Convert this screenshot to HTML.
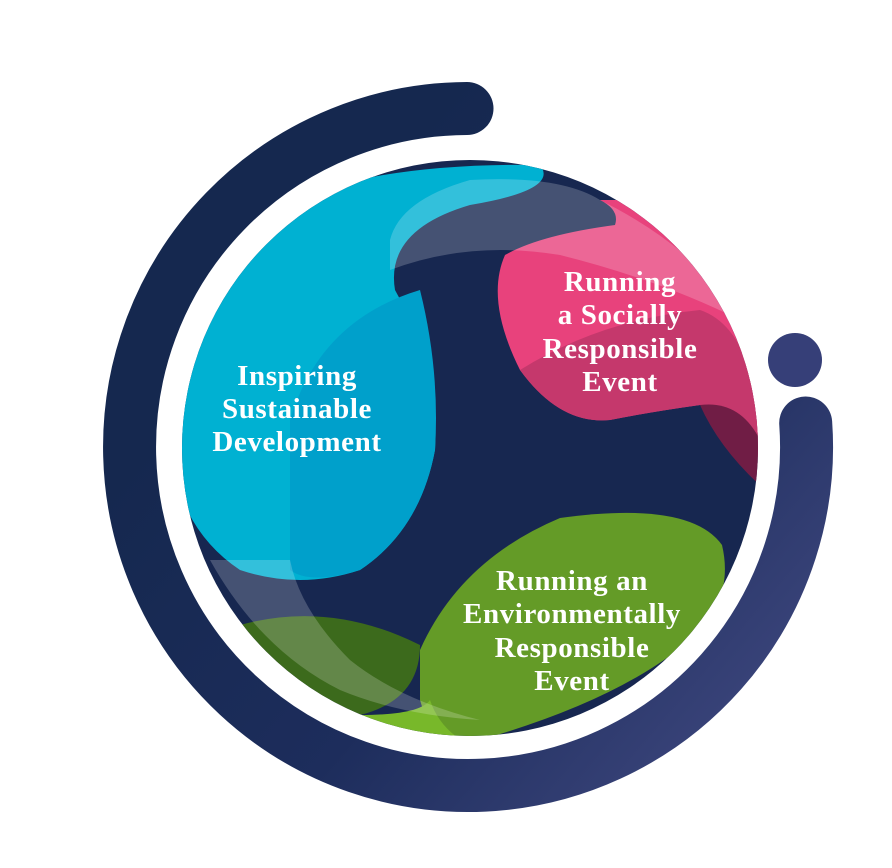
<!DOCTYPE html>
<html><head><meta charset="utf-8"><style>
html,body{margin:0;padding:0;background:#fff;}
svg{display:block}
text{font-family:"Liberation Serif",serif;font-weight:bold;fill:#fff;font-size:29px;letter-spacing:0.6px;text-anchor:middle}
</style></head><body>
<svg width="892" height="868" viewBox="0 0 892 868" xmlns="http://www.w3.org/2000/svg">
<defs>
<linearGradient id="ring" x1="0.2" y1="0.3" x2="0.9" y2="0.9">
<stop offset="0" stop-color="#15284f"/><stop offset="0.55" stop-color="#1d2d5c"/><stop offset="1" stop-color="#394379"/>
</linearGradient>
<clipPath id="c"><circle cx="470" cy="448" r="288"/></clipPath>
</defs>
<path d="M467 108.5 A338.5 338.5 0 1 0 805.7 423" fill="none" stroke="url(#ring)" stroke-width="53" stroke-linecap="round"/>
<circle cx="795" cy="360" r="27" fill="#363f78"/>
<circle cx="470" cy="448" r="288" fill="#172750"/>
<g clip-path="url(#c)">
<path d="M150 300 Q250 160 540 165 Q560 190 470 205 Q385 230 395 290 Q440 370 435 450 Q420 530 360 570 Q300 590 240 570 Q180 530 170 450 Z" fill="#00b1d2"/>
<path d="M290 420 Q320 320 420 290 Q440 370 435 450 Q420 530 360 570 Q310 585 290 570 Z" fill="#00a0cb"/>
<path d="M600 200 Q620 210 615 225 Q540 235 505 255 Q485 300 520 370 Q560 425 610 420 Q650 412 700 405 Q760 400 770 480 L800 480 L800 200 Z" fill="#e8427c"/>
<path d="M520 370 Q600 320 700 310 Q760 330 765 470 Q740 420 700 405 Q650 412 610 420 Q560 425 520 370Z" fill="#c5386c"/>
<path d="M700 405 Q740 400 760 440 L765 490 Q720 450 700 405Z" fill="#701d45"/>
<path d="M420 650 Q460 560 560 518 Q690 500 722 545 Q735 600 690 640 Q620 700 480 740 Q430 740 420 700 Z" fill="#649b27"/>
<path d="M240 625 Q330 600 420 645 Q420 700 360 715 Q300 700 240 640Z" fill="#3c6a1c"/>
<path d="M240 640 Q300 700 360 715 Q420 715 430 700 Q440 730 470 745 L300 745 Z" fill="#78b82a"/>
<path d="M390 240 Q400 200 470 180 Q560 175 600 200 Q700 250 740 320 Q660 280 560 255 Q470 240 390 270 Z" fill="#ffffff" opacity="0.2"/>
<path d="M210 560 Q260 650 340 690 Q400 715 480 720 Q400 700 350 660 Q300 610 290 560 Z" fill="#ffffff" opacity="0.2"/>
</g>
<text x="297" y="385">Inspiring</text>
<text x="297" y="418">Sustainable</text>
<text x="297" y="451">Development</text>
<text x="620" y="291">Running</text>
<text x="620" y="324">a Socially</text>
<text x="620" y="358">Responsible</text>
<text x="620" y="391">Event</text>
<text x="572" y="590">Running an</text>
<text x="572" y="623">Environmentally</text>
<text x="572" y="657">Responsible</text>
<text x="572" y="690">Event</text>
</svg>
</body></html>
